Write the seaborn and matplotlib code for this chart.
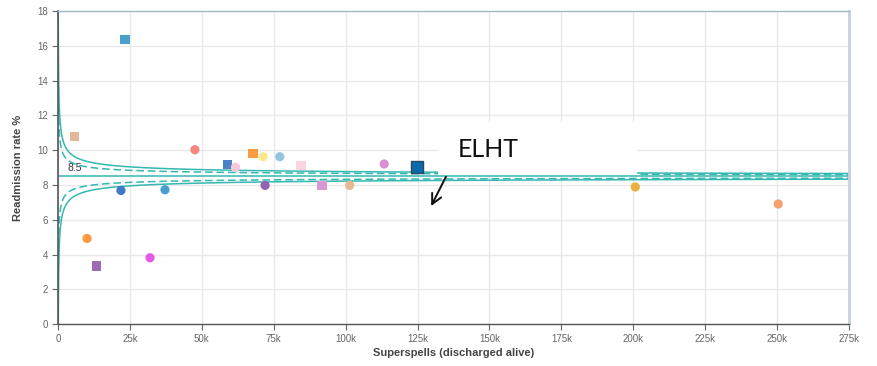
import numpy as np
import pandas as pd
import matplotlib
matplotlib.use("Agg")
import matplotlib.pyplot as plt
import seaborn as sns
from matplotlib.patches import Rectangle

# Trust-level observations: superspells (thousands) and readmission rate (%)
spells_k = [23.3, 5.8, 47.6, 58.8, 61.7, 67.8, 71.3, 77.1, 84.5, 113.4, 124.8,
            21.9, 37.2, 72.0, 91.8, 101.4, 200.7, 250.4, 10.1, 13.3, 32.0]
rates = [16.37, 10.80, 10.03, 9.17, 9.02, 9.82, 9.63, 9.63, 9.13, 9.21, 9.06,
         7.69, 7.73, 7.98, 7.98, 7.98, 7.89, 6.91, 4.93, 3.34, 3.82]
shapes = ["square", "square", "circle", "square", "circle", "square", "circle",
          "circle", "square", "circle", "square", "circle", "circle", "circle",
          "square", "circle", "circle", "circle", "circle", "square", "circle"]
colours = ["#4aa0cc", "#e2b898", "#f7877f", "#4a80c4", "#f9c6dc", "#fb9a40",
           "#fde98c", "#93c4e0", "#fbd3e2", "#d98fd1", "#0b6aaa", "#3f78c4",
           "#47a0d0", "#9464b0", "#d69ad0", "#e6b896", "#e8b040", "#f4a070",
           "#ff9a40", "#9b6bb5", "#e45ae6"]
highlight = "ELHT"
highlight_index = 10

national_rate = 8.5
x_ticks_k = [0, 25, 50, 75, 100, 125, 150, 175, 200, 225, 250, 275]
y_ticks = [0, 2, 4, 6, 8, 10, 12, 14, 16, 18]

df = pd.DataFrame({
    "spells": np.array(spells_k) * 1000,
    "rate": rates,
    "shape": shapes,
    "trust": [f"T{i}" for i in range(len(rates))],
})
palette = dict(zip(df["trust"], colours))

sns.set_theme(style="whitegrid")
plt.rcParams["font.family"] = ["Liberation Sans", "DejaVu Sans"]

fig = plt.figure(figsize=(8.77, 3.66), dpi=100)
ax = fig.add_axes([0.0661, 0.1142, 0.902, 0.8555])

# Funnel control limits around the national rate (95% dashed, 99.8% solid)
n = np.geomspace(40, 275000, 3000)
p = national_rate / 100
se = np.sqrt(p * (1 - p) / n) * 100
teal = "#34b8b0"
for z, ls, lw in [(3.09, "-", 1.1), (1.96, (0, (5, 2.5)), 1.1)]:
    ax.plot(n, national_rate + z * se, color=teal, ls=ls, lw=lw, zorder=2)
    ax.plot(n, national_rate - z * se, color=teal, ls=ls, lw=lw, zorder=2)
ax.axhline(national_rate, color=teal, lw=1.1, zorder=2)
ax.text(5800, national_rate + 0.18, f"{national_rate:.1f}", fontsize=7.5,
        color="#333333", va="bottom", ha="center", zorder=3)

main = df.drop(index=highlight_index)
sns.scatterplot(data=main, x="spells", y="rate", hue="trust", style="shape",
                markers={"circle": "o", "square": "s"}, palette=palette,
                s=44, linewidth=0, legend=False, ax=ax, zorder=4)
sns.scatterplot(data=df.loc[[highlight_index]], x="spells", y="rate",
                hue="trust", palette=palette, marker="s", s=80,
                edgecolor="#2c4a66", linewidth=1.0, legend=False, ax=ax, zorder=5)

# Callout label over the funnel
ax.add_patch(Rectangle((132200, 8.55), 69000, 3.1, facecolor="white",
                       edgecolor="none", zorder=3))
ax.text(149500, 10.05, highlight, fontsize=18, family=["Lato", "DejaVu Sans"],
        color="#111111", ha="center", va="center", zorder=6)
ax.annotate("", xy=(129300, 6.65), xytext=(135300, 8.62),
            arrowprops=dict(arrowstyle="->", color="#111111", lw=1.4,
                            mutation_scale=18), zorder=6)

ax.set_xlim(0, 275000)
ax.set_ylim(0, 18)
ax.set_xticks([k * 1000 for k in x_ticks_k])
ax.set_xticklabels(["0" if k == 0 else f"{k}k" for k in x_ticks_k])
ax.set_yticks(y_ticks)
ax.grid(True, color="#e9e9e9", lw=1)
ax.tick_params(axis="both", labelsize=7, colors="#666666", length=4,
               width=0.8, direction="out", pad=3)
ax.tick_params(axis="x", bottom=True)
ax.tick_params(axis="y", left=True)
for lab in ax.get_xticklabels() + ax.get_yticklabels():
    lab.set_color("#666666")

ax.set_xlabel("Superspells (discharged alive)", fontsize=8, fontweight="bold",
              color="#444444", labelpad=3)
ax.set_ylabel("Readmission rate %", fontsize=8, fontweight="bold",
              color="#444444", labelpad=10)

ax.spines["left"].set_color("#555555")
ax.spines["left"].set_linewidth(1.2)
ax.spines["bottom"].set_color("#555555")
ax.spines["bottom"].set_linewidth(1.0)
ax.spines["top"].set_color("#9fbac8")
ax.spines["top"].set_linewidth(1.0)
ax.spines["right"].set_color("#c5d3dc")
ax.spines["right"].set_linewidth(2.0)

fig.savefig("out.png", dpi=100, facecolor="white")
